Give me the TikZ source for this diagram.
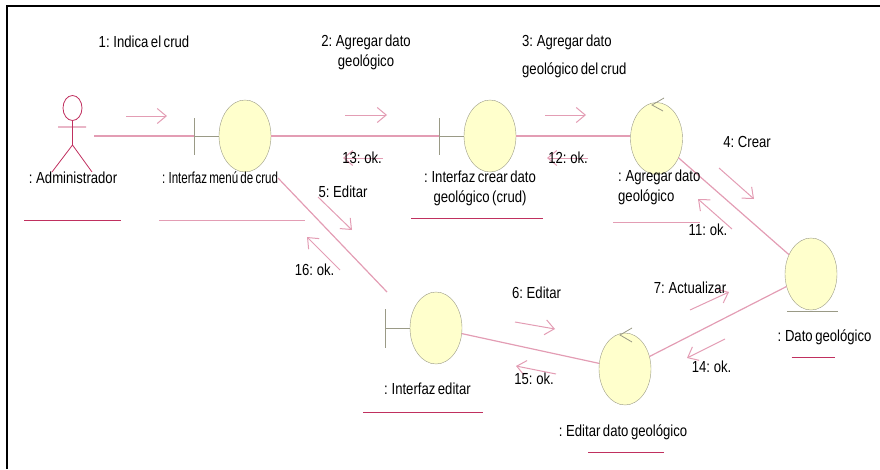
\documentclass[tikz,border=0pt]{standalone}
\usepackage{fontspec}
\setmainfont[WordSpace=0.7]{Liberation Sans}
\usetikzlibrary{arrows.meta, positioning, shapes.geometric}

\definecolor{objline}{HTML}{9A9A86}
\definecolor{objfill}{HTML}{FFFFCC}
\definecolor{linkpink}{HTML}{E39DB4}
\definecolor{linedark}{HTML}{C0305F}

\tikzset{
	obj/.style={ellipse, draw=objline, fill=objfill, minimum width=52pt, minimum height=72pt, inner sep=0pt},
	link/.style={draw=linkpink, line width=1.2pt},
	linkh/.style={draw=linkpink, line width=1.8pt},
	msg/.style={draw=linkpink, line width=1pt, -{Straight Barb[length=9pt,width=15pt]}},
	uline/.style={draw=linedark, line width=1pt},
	bar/.style={draw=objline, line width=1pt},
	lbl/.style={font=\fontsize{16}{20}\selectfont, xscale=.82, inner sep=0pt, align=center},
}

\begin{document}
\begin{tikzpicture}[x=1pt, y=-1pt]
	\useasboundingbox (0,0) rectangle (880,469);
	\draw[line width=1.5pt] (7,469) -- (7,6) -- (880,6);

	% objects
	\node[obj] (menu) at (245,136) {};
	\node[obj] (crear) at (490,136) {};
	\node[obj] (agregar) at (656.5,138.5) {};
	\node[obj] (dato) at (811,274) {};
	\node[obj] (editar) at (436,328) {};
	\node[obj] (modif) at (625,369) {};

	% actor
	\node[ellipse, draw=linedark, line width=.8pt, minimum width=19pt, minimum height=25pt, inner sep=0pt] (head) at (72.5,108) {};
	\coordinate (hip) at (72.5,145);
	\coordinate (armL) at (58,127);
	\coordinate (armR) at (86,127);
	\coordinate (legL) at (52,172);
	\coordinate (legR) at (92,172);
	\draw[draw=linedark, line width=.8pt] (head) -- (hip) (armL) -- (armR) (legL) -- (hip) -- (legR);

	% boundary bars
	\coordinate (menubar) at (194,136);
	\coordinate (crearbar) at (439,136);
	\coordinate (editarbar) at (385,328);
	\draw[bar] (194,118) -- (194,155) (menubar) -- (menu);
	\draw[bar] (439,118) -- (439,155) (crearbar) -- (crear);
	\draw[bar] (385,309) -- (385,348) (editarbar) -- (editar);

	% control marks
	\draw[draw=objline, line width=.8pt] (664,98) -- (652,105) -- (663,111);
	\draw[draw=objline, line width=.8pt] (632,328) -- (620,335) -- (632,342);

	% entity base
	\draw[bar] (787,311) -- (838,311);

	% links
	\coordinate (adminout) at (94,136);
	\coordinate (menuout) at (278,178);
	\coordinate (editarin) at (387,292);
	\draw[linkh] (adminout) -- (menubar);
	\draw[linkh] (menu) -- (crearbar);
	\draw[linkh] (crear.east) -- (crear.east -| agregar.west);
	\draw[link] (agregar) -- (dato);
	\draw[link] (menuout) -- (editarin);
	\draw[link] (editar) -- (modif);
	\draw[link] (modif) -- (dato);

	% messages
	\draw[msg] (126,116) -- (167,116);
	\draw[msg] (345,115) -- (387,115);
	\draw[msg] (545,115) -- (586,115);
	\draw[msg] (719,168) -- (754,199);
	\draw[msg] (318,197) -- (352,230);
	\draw[msg] (515,322) -- (555,329);
	\draw[msg] (690,310) -- (729,292);
	\draw[msg] (383,158) -- (343,158);
	\draw[msg] (588,158) -- (547,158);
	\draw[msg] (732,229) -- (698,199);
	\draw[msg] (725,339) -- (687,358);
	\draw[msg] (556,374) -- (516,366);
	\draw[msg] (340,270) -- (307,237);

	% labels
	\node[lbl] (m1) at (144,42) {1: Indica el crud};
	\node[lbl] (m2) at (366,52) {2: Agregar dato\\geológico};
	\node[lbl, anchor=north west, align=left, font=\fontsize{16}{28}\selectfont] (m3) at (522,35) {3: Agregar dato\\geológico del crud};
	\node[lbl] (m4) at (747,142) {4: Crear};
	\node[lbl] (m5) at (343,192) {5: Editar};
	\node[lbl] (m6) at (536.5,293) {6: Editar};
	\node[lbl] (m7) at (690,288) {7: Actualizar};
	\node[lbl] (m11) at (708,230) {11: ok.};
	\node[lbl] (m12) at (568,158) {12: ok.};
	\node[lbl] (m13) at (362,158) {13: ok.};
	\node[lbl] (m14) at (711.5,367) {14: ok.};
	\node[lbl] (m15) at (534,379) {15: ok.};
	\node[lbl] (m16) at (314.5,270) {16: ok.};

	\node[lbl] (ladmin) at (73,178) {: Administrador};
	\node[lbl, xscale=.88] (lmenu) at (220,178) {: Interfaz menú de crud};
	\node[lbl] (lcrear) at (480,188) {: Interfaz crear dato\\geológico (crud)};
	\node[lbl, align=left, anchor=north west] (lagregar) at (618,170) {: Agregar dato\\geológico};
	\node[lbl] (ldato) at (824.5,337) {: Dato geológico};
	\node[lbl] (leditar) at (427.5,389) {: Interfaz editar};
	\node[lbl] (lmodif) at (623,432) {: Editar dato geológico};

	% underlines
	\draw[uline] (24,220) -- (121,220);
	\draw[uline, draw=linkpink] (159,220) -- (305,220);
	\draw[uline] (411,218) -- (543,218);
	\draw[uline, draw=linkpink] (613,222) -- (700,222);
	\draw[uline] (791.5,357) -- (835,357);
	\draw[uline] (363,412) -- (483,412);
	\draw[uline] (588,452) -- (664,452);
\end{tikzpicture}
\end{document}
